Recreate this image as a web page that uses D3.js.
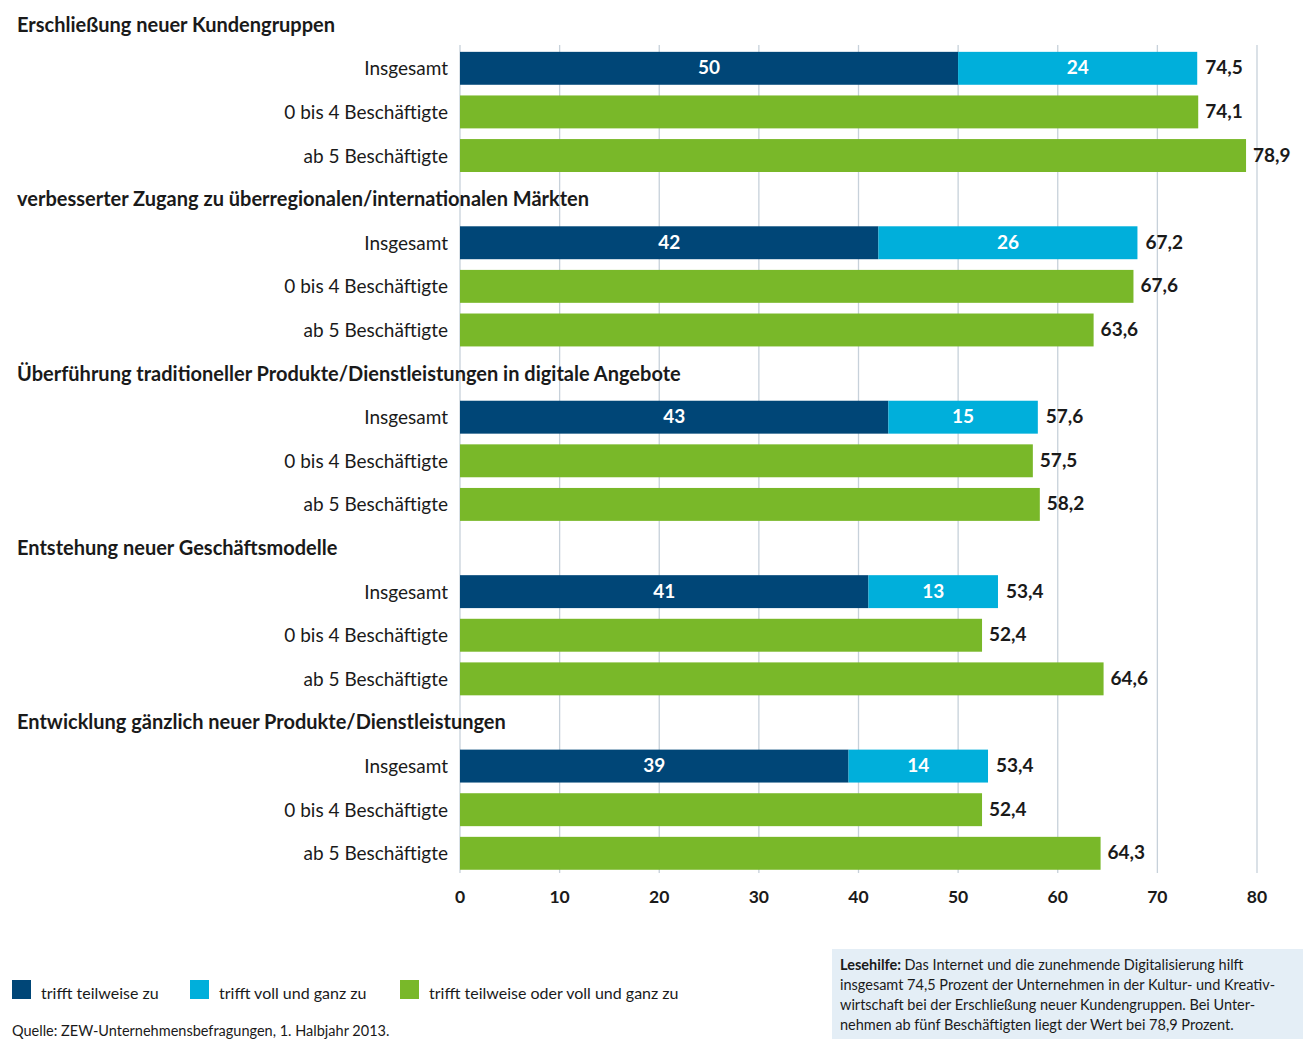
<!DOCTYPE html>
<html>
<head>
<meta charset="utf-8">
<script src="https://cdn.jsdelivr.net/npm/d3@7.9.0/dist/d3.min.js"></script>
<style>
  body { margin: 0; background: #fff; }
  svg text { font-family: "Lato", "Noto Sans", sans-serif; fill: #1a1a1a; }
  .title { font-weight: bold; font-size: 20px; }
  .rowlabel { font-size: 19px; }
  .val { font-weight: bold; font-size: 19px; }
  .inval { font-weight: bold; font-size: 19px; fill: #fff; }
  .tick { font-weight: bold; font-size: 17.5px; }
  .legend { font-size: 16px; }
  .note { font-size: 14.5px; }
</style>
</head>
<body>
<svg width="1303" height="1039"></svg>
<script>
const groupTitles = [
  "Erschließung neuer Kundengruppen",
  "verbesserter Zugang zu überregionalen/internationalen Märkten",
  "Überführung traditioneller Produkte/Dienstleistungen in digitale Angebote",
  "Entstehung neuer Geschäftsmodelle",
  "Entwicklung gänzlich neuer Produkte/Dienstleistungen"
];
const rowLabels = ["Insgesamt", "0 bis 4 Beschäftigte", "ab 5 Beschäftigte"];

// Insgesamt: stacked parts and printed total
const teilweise = [50, 42, 43, 41, 39];
const vollGanz = [24, 26, 15, 13, 14];
const insgesamt = ["74,5", "67,2", "57,6", "53,4", "53,4"];
// size classes
const klein = [74.1, 67.6, 57.5, 52.4, 52.4];
const gross = [78.9, 63.6, 58.2, 64.6, 64.3];

const ticks = [0, 10, 20, 30, 40, 50, 60, 70, 80];
const legendLabels = ["trifft teilweise zu", "trifft voll und ganz zu", "trifft teilweise oder voll und ganz zu"];

const colors = { dark: "#004677", cyan: "#00afdb", green: "#79b829", grid: "#c7d1da" };

const svg = d3.select("svg");
const x = d3.scaleLinear().domain([0, 80]).range([460, 1257]);

// one slot per row: title + 3 bars per group
const rows = d3.range(groupTitles.length * 4);
const y = d3.scaleBand().domain(rows).range([3, 875]).paddingInner(0.245).paddingOuter(0.12);

const fmt = v => String(v).replace(".", ",");

// gridlines
svg.append("g").selectAll("line")
  .data(ticks)
  .enter().append("line")
  .attr("x1", d => x(d)).attr("x2", d => x(d))
  .attr("y1", 45).attr("y2", 873)
  .attr("stroke", colors.grid).attr("stroke-width", 1.3);

// axis labels
svg.append("g").selectAll("text")
  .data(ticks)
  .enter().append("text")
  .attr("class", "tick")
  .attr("x", d => x(d)).attr("y", 903)
  .attr("text-anchor", "middle")
  .text(d => d);

groupTitles.forEach((title, g) => {
  const r0 = g * 4;
  const cy = i => y(r0 + i) + y.bandwidth() / 2;

  svg.append("text").attr("class", "title")
    .attr("x", 17).attr("y", cy(0) + 7)
    .text(title);

  rowLabels.forEach((lab, i) => {
    svg.append("text").attr("class", "rowlabel")
      .attr("x", 448).attr("y", cy(i + 1) + 7)
      .attr("text-anchor", "end")
      .text(lab);
  });

  // stacked Insgesamt bar
  const parts = [
    { v0: 0, v1: teilweise[g], c: colors.dark },
    { v0: teilweise[g], v1: teilweise[g] + vollGanz[g], c: colors.cyan }
  ];
  const by = y(r0 + 1);
  svg.append("g").selectAll("rect")
    .data(parts)
    .enter().append("rect")
    .attr("x", d => x(d.v0)).attr("width", d => x(d.v1) - x(d.v0))
    .attr("y", by).attr("height", y.bandwidth())
    .attr("fill", d => d.c);
  svg.append("g").selectAll("text")
    .data(parts)
    .enter().append("text").attr("class", "inval")
    .attr("x", d => (x(d.v0) + x(d.v1)) / 2).attr("y", cy(1) + 6)
    .attr("text-anchor", "middle")
    .text(d => d.v1 - d.v0);
  svg.append("text").attr("class", "val")
    .attr("x", x(teilweise[g] + vollGanz[g]) + 8).attr("y", cy(1) + 6)
    .text(insgesamt[g]);

  // green bars
  [klein[g], gross[g]].forEach((v, k) => {
    svg.append("rect")
      .attr("x", x(0)).attr("width", x(v) - x(0))
      .attr("y", y(r0 + 2 + k)).attr("height", y.bandwidth())
      .attr("fill", colors.green);
    svg.append("text").attr("class", "val")
      .attr("x", x(v) + 7).attr("y", cy(2 + k) + 6)
      .text(fmt(v));
  });
});

// legend
const legendX = [12, 190, 400];
const lg = svg.append("g").selectAll("g")
  .data(legendLabels)
  .enter().append("g")
  .attr("transform", (d, i) => `translate(${legendX[i]},980)`);
lg.append("rect").attr("width", 19).attr("height", 19)
  .attr("fill", (d, i) => [colors.dark, colors.cyan, colors.green][i]);
lg.append("text").attr("class", "legend")
  .attr("x", 29).attr("y", 19)
  .text(d => d);

svg.append("text").attr("class", "note")
  .attr("x", 12).attr("y", 1036)
  .text("Quelle: ZEW-Unternehmensbefragungen, 1. Halbjahr 2013.");

// reading aid box
svg.append("rect").attr("x", 832).attr("y", 949).attr("width", 471).attr("height", 90)
  .attr("fill", "#e4eef6");
const noteLines = [
  [["Lesehilfe: ", true], ["Das Internet und die zunehmende Digitalisierung hilft", false]],
  [["insgesamt 74,5 Prozent der Unternehmen in der Kultur- und Kreativ-", false]],
  [["wirtschaft bei der Erschließung neuer Kundengruppen. Bei Unter-", false]],
  [["nehmen ab fünf Beschäftigten liegt der Wert bei 78,9 Prozent.", false]]
];
noteLines.forEach((line, i) => {
  const t = svg.append("text").attr("class", "note")
    .attr("x", 840).attr("y", 970 + i * 20);
  line.forEach(([s, b]) => t.append("tspan").attr("font-weight", b ? "bold" : null).text(s));
});
</script>
</body>
</html>
